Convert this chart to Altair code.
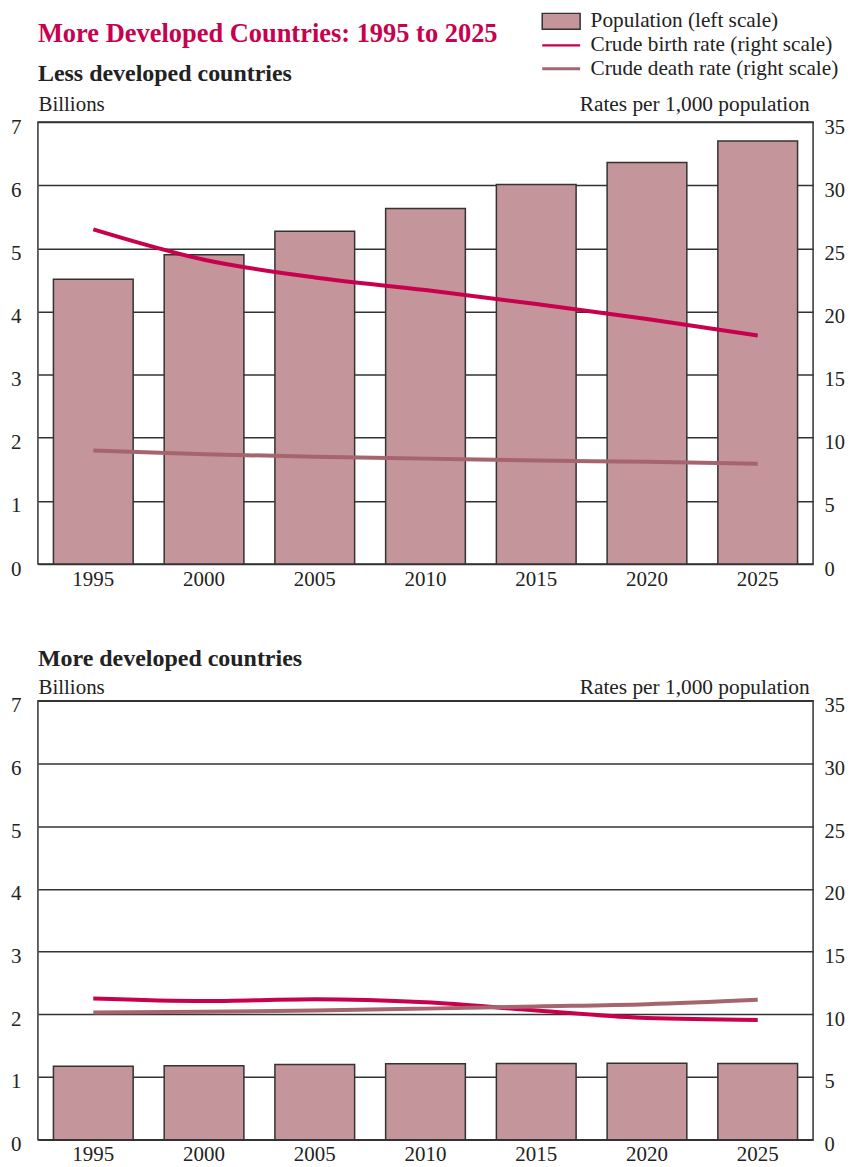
import altair as alt
import pandas as pd

years = ["1995", "2000", "2005", "2010", "2015", "2020", "2025"]
series_names = ["Population (left scale)", "Crude birth rate (right scale)", "Crude death rate (right scale)"]

less_pop = [4.51, 4.90, 5.27, 5.63, 6.01, 6.36, 6.70]
less_birth = [26.5, 24.1, 22.7, 21.7, 20.6, 19.4, 18.1]
less_death = [9.0, 8.7, 8.5, 8.35, 8.2, 8.1, 7.95]

more_pop = [1.17, 1.18, 1.20, 1.21, 1.215, 1.22, 1.215]
more_birth = [11.25, 11.05, 11.2, 10.95, 10.3, 9.7, 9.55]
more_death = [10.15, 10.2, 10.3, 10.45, 10.62, 10.8, 11.15]

pop_ticks = [0, 1, 2, 3, 4, 5, 6, 7]
rate_ticks = [0, 5, 10, 15, 20, 25, 30, 35]

BAR = "#C4959B"
BIRTH = "#C8004E"
DEATH = "#A6656E"
DARK = "#333333"
TXT = "#222222"
FONT = "Liberation Serif"

RECT = "M-1.727,-0.727H1.727V0.727H-1.727Z"
LINE = "M-1.727,0H1.727"

legend = alt.Legend(
    title=None,
    orient="none",
    legendX=512,
    legendY=-113,
    labelFont=FONT,
    labelFontSize=21.3,
    labelColor=TXT,
    labelOffset=17,
    labelLimit=400,
    symbolSize=484,
    symbolOpacity=1,
    rowPadding=0.5,
)


def panel(title, pop, birth, death, height, axis_title_y, with_legend):
    pop_df = pd.DataFrame({"year": years, "value": pop})
    rate_df = pd.concat([
        pd.DataFrame({"year": years, "value": birth, "series": series_names[1]}),
        pd.DataFrame({"year": years, "value": death, "series": series_names[2]}),
    ])
    x = alt.X(
        "year:O",
        scale=alt.Scale(paddingInner=0.28, paddingOuter=0.14),
        axis=alt.Axis(title=None, labelAngle=0, ticks=False, domain=False,
                      labelPadding=4, labelFont=FONT, labelFontSize=21, labelColor=TXT),
    )
    bars = alt.Chart(pop_df).mark_bar(fill=BAR, stroke=DARK, strokeWidth=1.5, opacity=1).encode(
        x=x,
        y=alt.Y(
            "value:Q",
            scale=alt.Scale(domain=[0, 7], nice=False),
            axis=alt.Axis(
                title="Billions", titleAngle=0, titleAlign="left", titleBaseline="alphabetic",
                titleX=0, titleY=axis_title_y, titleFont=FONT, titleFontSize=21,
                titleFontWeight="normal", titleColor=TXT,
                values=pop_ticks, ticks=False, domain=False, labelPadding=17, labelOffset=5,
                labelFont=FONT, labelFontSize=21, labelColor=TXT,
                grid=True, gridColor=DARK, gridWidth=1.5, gridOpacity=1,
            ),
        ),
    )
    lines = alt.Chart(rate_df).mark_line(strokeWidth=4, interpolate="monotone").encode(
        x=alt.X("year:O"),
        y=alt.Y(
            "value:Q",
            scale=alt.Scale(domain=[0, 35], nice=False),
            axis=alt.Axis(
                orient="right",
                title="Rates per 1,000 population", titleAngle=0, titleAlign="right",
                titleBaseline="alphabetic", titleX=-4, titleY=axis_title_y,
                titleFont=FONT, titleFontSize=21.4, titleFontWeight="normal", titleColor=TXT,
                values=rate_ticks, ticks=False, domain=False, labelPadding=11, labelOffset=5,
                labelFont=FONT, labelFontSize=20.5, labelColor=TXT, grid=False,
            ),
        ),
        color=alt.Color("series:N", scale=alt.Scale(domain=series_names[1:], range=[BIRTH, DEATH]),
                        legend=None),
    )
    layers = [bars, lines]
    if with_legend:
        key_df = pd.DataFrame({"series": series_names})
        key = alt.Chart(key_df).mark_point(opacity=0, filled=False).encode(
            fill=alt.Fill("series:O", scale=alt.Scale(domain=series_names, range=[BAR, "transparent", "transparent"]), legend=legend),
            stroke=alt.Stroke("series:O", scale=alt.Scale(domain=series_names, range=[DARK, BIRTH, DEATH]), legend=legend),
            shape=alt.Shape("series:O", scale=alt.Scale(domain=series_names, range=[RECT, LINE, LINE]), legend=legend),
            strokeWidth=alt.StrokeWidth("series:O", scale=alt.Scale(domain=series_names, range=[1.5, 3, 3]), legend=legend),
        )
        layers.append(key)
    return alt.layer(*layers).resolve_scale(y="independent").properties(
        width=777,
        height=height,
        title=title,
    )


top_title = alt.TitleParams(
    "More Developed Countries: 1995 to 2025",
    subtitle="Less developed countries",
    anchor="start", frame="group", font=FONT, fontSize=26.5, fontWeight="bold", color=BIRTH,
    subtitleFont=FONT, subtitleFontSize=24, subtitleFontWeight="bold", subtitleColor=TXT,
    subtitlePadding=14.5, offset=7.5,
)
bottom_title = alt.TitleParams(
    "More developed countries", anchor="start", frame="group", font=FONT, fontSize=24,
    fontWeight="bold", color=TXT, offset=6,
)

top = panel(top_title, less_pop, less_birth, less_death, 443, -12, True)
bottom = panel(bottom_title, more_pop, more_birth, more_death, 440, -7, False)

chart = alt.vconcat(top, bottom, spacing=56).configure(
    padding={"left": 1, "top": 0, "right": 0, "bottom": 0},
).configure_view(stroke=DARK, strokeWidth=1.5)

chart.save("out.html", embed_options={"renderer": "svg", "actions": False})
